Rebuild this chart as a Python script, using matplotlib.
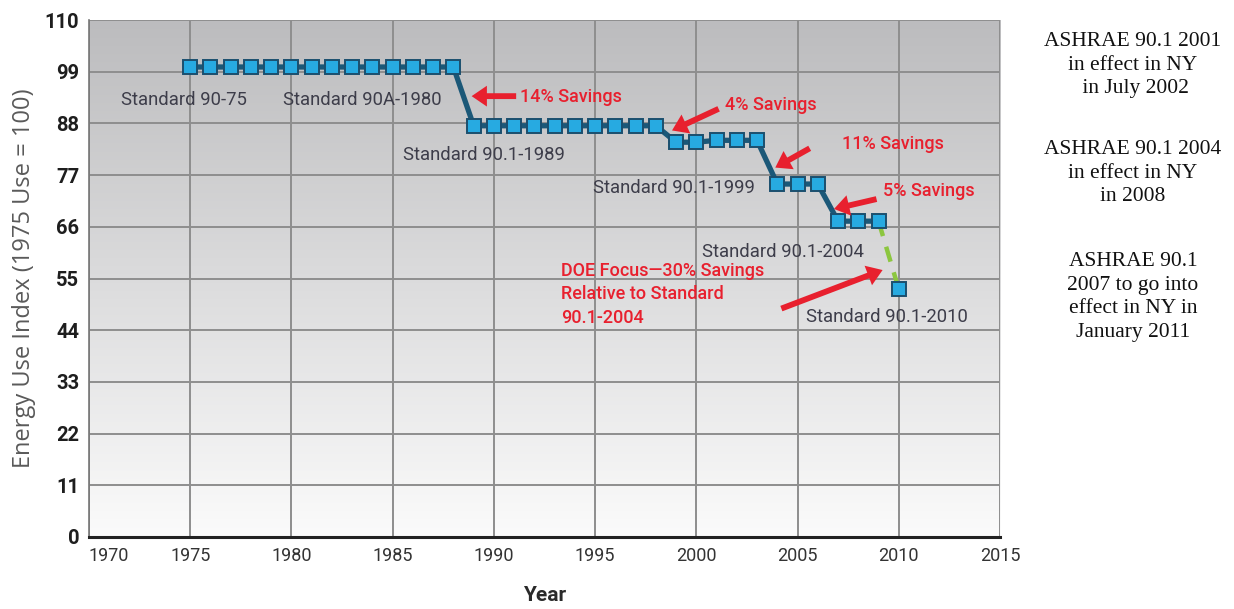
import numpy as np
import matplotlib
matplotlib.use("Agg")
import matplotlib.pyplot as plt
from matplotlib.colors import LinearSegmentedColormap
from matplotlib.patches import FancyArrowPatch

# ---- data ----
years = [1975, 1976, 1977, 1978, 1979, 1980, 1981, 1982, 1983, 1984, 1985, 1986, 1987, 1988,
         1989, 1990, 1991, 1992, 1993, 1994, 1995, 1996, 1997, 1998,
         1999, 2000, 2001, 2002, 2003,
         2004, 2005, 2006,
         2007, 2008, 2009]
energy_index = [100, 100, 100, 100, 100, 100, 100, 100, 100, 100, 100, 100, 100, 100,
                87.5, 87.5, 87.5, 87.5, 87.5, 87.5, 87.5, 87.5, 87.5, 87.5,
                84.0, 84.0, 84.4, 84.4, 84.4,
                75.1, 75.1, 75.1,
                67.2, 67.2, 67.2]
target_years = [2009, 2010]
target_index = [67.2, 52.7]

x_ticks = [1970, 1975, 1980, 1985, 1990, 1995, 2000, 2005, 2010, 2015]
y_ticks = [0, 11, 22, 33, 44, 55, 66, 77, 88, 99, 110]

standard_labels = ["Standard 90-75", "Standard 90A-1980", "Standard 90.1-1989",
                   "Standard 90.1-1999", "Standard 90.1-2004", "Standard 90.1-2010"]
standard_label_pos = [(1974.7, 93.0), (1983.5, 93.0), (1989.5, 81.2),
                      (1998.9, 74.2), (2004.3, 60.7), (2009.4, 46.8)]

savings_labels = ["14% Savings", "4% Savings", "11% Savings", "5% Savings",
                  "DOE Focus\u201430% Savings\nRelative to Standard\n90.1-2004"]
savings_text_pos = [(1991.3, 93.6), (2001.4, 91.9), (2007.2, 83.7), (2009.2, 73.7), (1993.3, 51.6)]
arrow_tail = [(1991.1, 93.8), (2001.1, 91.1), (2005.6, 82.7), (2008.9, 71.9), (2004.2, 48.6)]
arrow_tip = [(1988.9, 93.8), (1998.8, 86.5), (2003.9, 78.6), (2006.8, 69.8), (2009.2, 56.8)]

side_notes = ["ASHRAE 90.1 2001\nin effect in NY\n in July 2002",
              "ASHRAE 90.1 2004\nin effect in NY\nin 2008",
              "ASHRAE 90.1\n2007 to go into\neffect in NY in\nJanuary 2011"]

# ---- figure ----
fig = plt.figure(figsize=(12.34, 6.09), dpi=100)
ax = fig.add_axes([89 / 1234, 1 - 537 / 609, (1000 - 89) / 1234, (537 - 20) / 609])
ax.set_xlim(1970, 2015)
ax.set_ylim(0, 110)

# gradient background
cmap = LinearSegmentedColormap.from_list("bg", ["#fbfbfb", "#bcbcbe"])
grad = np.linspace(0, 1, 256).reshape(-1, 1)
ax.imshow(grad, cmap=cmap, aspect="auto", extent=[0, 1, 0, 1], transform=ax.transAxes,
          origin="lower", zorder=0)

ax.set_xticks(x_ticks)
ax.set_yticks(y_ticks)
ax.grid(True, color="#8e8e8e", linewidth=1.4, zorder=1)
ax.tick_params(length=0, pad=7)
for lab in ax.get_yticklabels():
    lab.set_fontweight("bold")
    lab.set_fontsize(14.5)
    lab.set_color("#1e1e1e")
    lab.set_family("Roboto")
for lab in ax.get_xticklabels():
    lab.set_fontsize(13)
    lab.set_color("#333333")
    lab.set_family("Roboto")
ax.get_xticklabels()[0].set_horizontalalignment("left")

for s in ["top", "right"]:
    ax.spines[s].set_visible(False)
ax.spines["left"].set_color("#777777")
ax.spines["left"].set_linewidth(1.2)
ax.spines["bottom"].set_color("#222222")
ax.spines["bottom"].set_linewidth(2.2)
ax.spines["bottom"].set_zorder(3)

ax.set_ylabel("Energy Use Index (1975 Use = 100)", fontsize=17, color="#5a5a5a",
              family="Open Sans", labelpad=6)
ax.set_xlabel("Year", fontsize=15, fontweight="bold", color="#2a2a2a",
              family="Roboto", labelpad=15)

# target (dashed green)
ax.plot(target_years, target_index, color="#8cc63f", linewidth=3.2, linestyle=(0, (3.5, 2.5)),
        zorder=3)
ax.plot(target_years[1:], target_index[1:], linestyle="none", marker="s", markersize=9.5,
        markerfacecolor="#27aae1", markeredgecolor="#1b4f6e", markeredgewidth=1.4, zorder=5)

# main series
ax.plot(years, energy_index, color="#1b5878", linewidth=3.8, zorder=4,
        marker="s", markersize=9.5, markerfacecolor="#27aae1", markeredgecolor="#1b4f6e",
        markeredgewidth=1.4)

# standard labels
for txt, (x, y) in zip(standard_labels, standard_label_pos):
    ax.text(x, y, txt, ha="center", va="center", fontsize=13.3, color="#3d3d4a",
            family="Roboto", zorder=6)

# savings annotations
red = "#e8202e"
for i, txt in enumerate(savings_labels):
    x, y = savings_text_pos[i]
    ax.text(x, y, txt, ha="left", va="center", fontsize=13, color=red,
            fontweight="medium", family="Roboto", linespacing=1.4, zorder=6)
    arr = FancyArrowPatch(arrow_tail[i], arrow_tip[i],
                          arrowstyle="simple,head_length=1.1,head_width=1.5,tail_width=0.42",
                          mutation_scale=10, color=red, linewidth=0, shrinkA=0, shrinkB=0,
                          zorder=6)
    ax.add_patch(arr)

# side notes
note_y = [65 / 609, 173 / 609, 297 / 609]
for txt, yy in zip(side_notes, note_y):
    fig.text(1133 / 1234, 1 - yy, txt, ha="center", va="center", fontsize=15.5,
             family="Liberation Serif", color="#111111", linespacing=1.33)

fig.savefig("out.png", dpi=100)
